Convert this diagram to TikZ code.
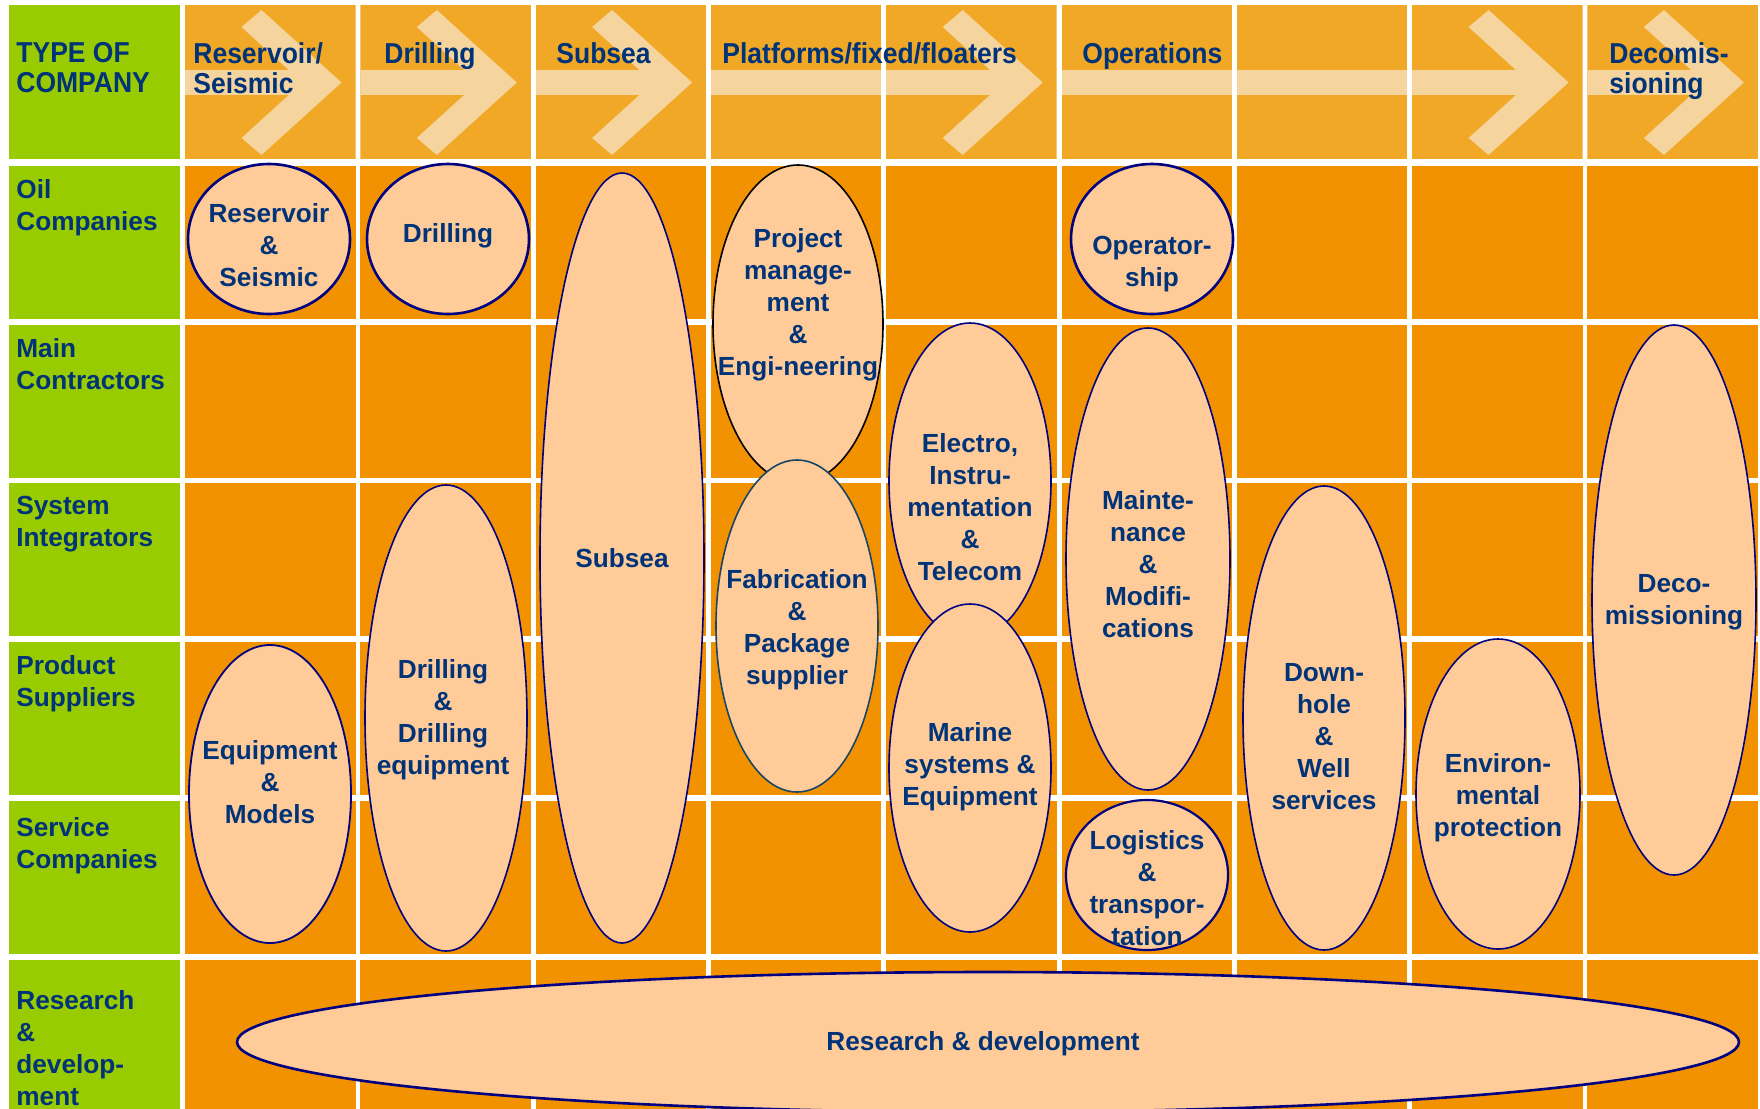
\documentclass[tikz,border=0pt]{standalone}
\usepackage{fontspec}
\setmainfont{Liberation Sans}
\newfontfamily\headfont{Liberation Sans}[FakeStretch=0.92]
\usetikzlibrary{shapes.geometric}

\definecolor{leafgreen}{RGB}{153,204,0}
\definecolor{headorange}{RGB}{240,168,38}
\definecolor{cellorange}{RGB}{243,146,0}
\definecolor{arrowbeige}{RGB}{246,212,158}
\definecolor{ovalpeach}{RGB}{255,204,153}
\definecolor{ovalline}{RGB}{0,0,128}
\definecolor{fabline}{RGB}{25,70,100}
\definecolor{labelblue}{RGB}{0,51,120}

\begin{document}
\begin{tikzpicture}[x=0.5pt,y=-0.5pt]
\tikzstyle{oval} = [ellipse, draw=ovalline, line width=0.8pt, fill=ovalpeach, inner sep=0pt, outer sep=0pt]
\tikzstyle{ovaltext} = [text=labelblue, font=\fontsize{13.1}{16}\selectfont\bfseries, align=center, inner sep=0pt]
\tikzstyle{rowlabel} = [text=labelblue, font=\fontsize{13.1}{16}\selectfont\bfseries, align=left, anchor=north west, inner sep=0pt]
\tikzstyle{headlabel} = [text=labelblue, font=\headfont\fontsize{14.4}{15}\selectfont\bfseries, align=left, anchor=north west, inner sep=0pt]

\useasboundingbox (0,0) rectangle (1760,1108);
\fill[white] (0,0) rectangle (1760,1108);

% green column
\fill[leafgreen] (9,5) rectangle (180,159);
\foreach \r in {1,...,6}
  \fill[leafgreen] (9,{166+(\r-1)*158.7}) rectangle (180,{166+(\r-1)*158.7+153});

% header cells, band and chevrons
\foreach \c/\arr in {1/1,2/1,3/1,4/0,5/1,6/0,7/0,8/1,9/1} {
  \pgfmathsetmacro\L{185+(\c-1)*175.3}
  \pgfmathsetmacro\R{\L+170.5}
  \begin{scope}
    \clip (\L,5) rectangle (\R,159);
    \fill[headorange] (\L,5) rectangle (\R,159);
    \ifnum\arr=1
      \fill[arrowbeige] (\L,70) rectangle ({\R-40},95);
      \fill[arrowbeige] ({\R-114},27) -- ({\R-94},10) -- ({\R-14},82.5)
        -- ({\R-94},155) -- ({\R-114},138) -- ({\R-53},82.5) -- cycle;
    \else
      \fill[arrowbeige] (\L,70) rectangle (\R,95);
    \fi
  \end{scope}
}

% body cells
\foreach \r in {1,...,6}
  \foreach \c in {1,...,9}
    \fill[cellorange] ({185+(\c-1)*175.3},{166+(\r-1)*158.7})
      rectangle ({185+(\c-1)*175.3+170.5},{166+(\r-1)*158.7+153});

% ovals
\node[oval, line width=1.3pt, minimum width=81pt, minimum height=75pt] (resseis) at (269,239) {};
\node[ovaltext] (resseis-txt) at (269,245) {Reservoir\\\&\\Seismic};
\node[oval, line width=1.3pt, minimum width=81pt, minimum height=75pt] (drill) at (448,239) {};
\node[ovaltext] (drill-txt) at (448,236) {Drilling};
\node[oval, minimum width=82pt, minimum height=385pt] (subsea) at (622,558) {};
\node[ovaltext] (subsea-txt) at (622,558) {Subsea};
\node[oval, draw=black, minimum width=85pt, minimum height=159pt] (projmgmt) at (798,324) {};
\node[ovaltext] (projmgmt-txt) at (798,305) {Project\\manage-\\ment\\\&\\Engi-neering};
\node[oval, draw=fabline, minimum width=81pt, minimum height=166pt] (fabric) at (797,626) {};
\node[ovaltext] (fabric-txt) at (797,630) {Fabrication\\\&\\Package\\supplier};
\node[oval, minimum width=81pt, minimum height=158pt] (electro) at (970,481) {};
\node[ovaltext] (electro-txt) at (970,507) {Electro,\\Instru-\\mentation\\\&\\Telecom};
\node[oval, minimum width=81pt, minimum height=164pt] (marine) at (970,768) {};
\node[ovaltext] (marine-txt) at (970,767) {Marine\\systems \&\\Equipment};
\node[oval, line width=1.3pt, minimum width=81pt, minimum height=75pt] (operator) at (1152,239) {};
\node[ovaltext] (operator-txt) at (1152,264) {Operator-\\ship};
\node[oval, minimum width=82pt, minimum height=231pt] (maint) at (1148,559) {};
\node[ovaltext] (maint-txt) at (1148,564) {Mainte-\\nance\\\&\\Modifi-\\cations};
\node[oval, line width=1.1pt, minimum width=81pt, minimum height=75pt] (logist) at (1147,875) {};
\node[ovaltext] (logist-txt) at (1147,888) {Logistics\\\&\\transpor-\\tation};
\node[oval, minimum width=81pt, minimum height=232pt] (downhole) at (1324,718) {};
\node[ovaltext] (downhole-txt) at (1324,737) {Down-\\hole\\\&\\Well\\services};
\node[oval, minimum width=82pt, minimum height=155pt] (environ) at (1498,794) {};
\node[ovaltext] (environ-txt) at (1498,798) {Environ-\\mental\\protection};
\node[oval, minimum width=82pt, minimum height=275pt] (decom) at (1674,600) {};
\node[ovaltext] (decom-txt) at (1674,602) {Deco-\\missioning};
\node[oval, line width=0.9pt, minimum width=81pt, minimum height=149pt] (equip) at (270,794) {};
\node[ovaltext] (equip-txt) at (270,782) {Equipment\\\&\\Models};
\node[oval, minimum width=81pt, minimum height=233pt] (drilleq) at (446,718) {};
\node[ovaltext] (drilleq-txt) at (443,720) {Drilling\\\&\\Drilling\\equipment};
\node[oval, line width=1.3pt, minimum width=751pt, minimum height=70pt] (rnd) at (988,1042) {};
\node[ovaltext] (rnd-txt) at (983,1044) {Research \& development};

% row labels
\node[rowlabel] (oil) at (16,179) {Oil\\Companies};
\node[rowlabel] (main) at (16,338) {Main\\Contractors};
\node[rowlabel] (sys) at (16,496) {System\\Integrators};
\node[rowlabel] (prod) at (16,655) {Product\\Suppliers};
\node[rowlabel] (serv) at (16,817) {Service\\Companies};
\node[rowlabel] (research) at (16,990) {Research\\\&\\develop-\\ment};

% header labels
\node[headlabel] (type) at (16,42) {TYPE OF\\COMPANY};
\node[headlabel] (h-res) at (193,42) {Reservoir/\\Seismic};
\node[headlabel] (h-drill) at (384,42) {Drilling};
\node[headlabel] (h-subsea) at (556,42) {Subsea};
\node[headlabel] (h-platf) at (722,42) {Platforms/fixed/floaters};
\node[headlabel] (h-oper) at (1082,42) {Operations};
\node[headlabel] (h-decom) at (1609,42) {Decomis-\\sioning};
\end{tikzpicture}
\end{document}
